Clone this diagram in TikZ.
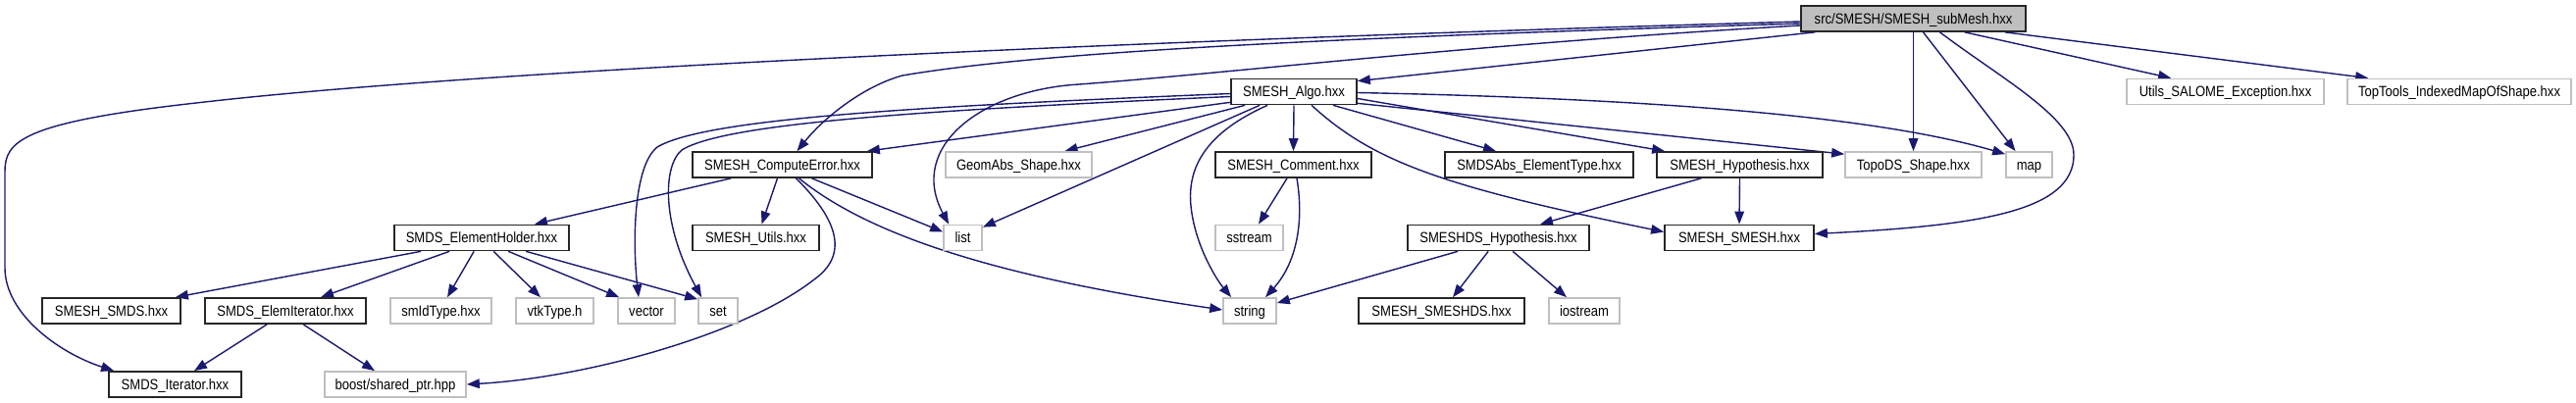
\documentclass[tikz,border=0pt]{standalone}
\usepackage{fontspec}
\newfontfamily\dfont[FakeStretch=0.87]{Liberation Sans}
\usetikzlibrary{arrows.meta,calc,backgrounds}
\definecolor{edgec}{RGB}{25,25,112}
\definecolor{grayb}{RGB}{191,191,191}
\definecolor{rootfill}{RGB}{191,191,191}
\begin{document}
\begin{tikzpicture}[x=0.5pt,y=-0.5pt,
  nbox/.style={draw=black!85, line width=0.85pt, fill=white, inner sep=0pt, minimum height=13pt, text height=6.2pt, text depth=0.8pt, font=\dfont\fontsize{7.5pt}{9pt}\selectfont},
  sysbox/.style={nbox, draw=grayb},
  rootbox/.style={nbox, fill=rootfill},
  bw/.style={minimum width=#1*0.5pt},
  dep/.style={draw=edgec, line width=0.7pt, -{Triangle[length=6.5pt,width=4.8pt]}}]
\useasboundingbox (0,0) rectangle (2626,411);
% row 1
\node[rootbox,bw=229] (root) at (1950.5,19) {src/SMESH/SMESH\_subMesh.hxx};
% row 2
\node[nbox,bw=128] (algo) at (1319,93.5) {SMESH\_Algo.hxx};
\node[sysbox,bw=201] (utils) at (2268.5,93.5) {Utils\_SALOME\_Exception.hxx};
\node[sysbox,bw=228] (toptools) at (2507,93.5) {TopTools\_IndexedMapOfShape.hxx};
% row 3
\node[nbox,bw=183] (computeerror) at (797.5,168) {SMESH\_ComputeError.hxx};
\node[sysbox,bw=149] (geomabs) at (1038.5,168) {GeomAbs\_Shape.hxx};
\node[nbox,bw=159] (comment) at (1318.5,168) {SMESH\_Comment.hxx};
\node[nbox,bw=192] (smdsabs) at (1569,168) {SMDSAbs\_ElementType.hxx};
\node[nbox,bw=169] (hypothesis) at (1773.5,168) {SMESH\_Hypothesis.hxx};
\node[sysbox,bw=139] (topods) at (1950.5,168) {TopoDS\_Shape.hxx};
\node[sysbox,bw=47] (map) at (2068.5,168) {map};
% row 4
\node[nbox,bw=178] (elemholder) at (491,242.5) {SMDS\_ElementHolder.hxx};
\node[nbox,bw=129] (smeshutils) at (770.5,242.5) {SMESH\_Utils.hxx};
\node[sysbox,bw=39] (list) at (981.5,242.5) {list};
\node[sysbox,bw=69] (sstream) at (1273.5,242.5) {sstream};
\node[nbox,bw=185] (smeshdshyp) at (1527.5,242.5) {SMESHDS\_Hypothesis.hxx};
\node[nbox,bw=152] (smeshsmesh) at (1773,242.5) {SMESH\_SMESH.hxx};
% row 5
\node[nbox,bw=141] (smeshsmds) at (113.5,317) {SMESH\_SMDS.hxx};
\node[nbox,bw=164] (elemiter) at (291,317) {SMDS\_ElemIterator.hxx};
\node[sysbox,bw=103] (smidtype) at (449.5,317) {smIdType.hxx};
\node[sysbox,bw=79] (vtktype) at (565.5,317) {vtkType.h};
\node[sysbox,bw=58] (vector) at (659,317) {vector};
\node[sysbox,bw=40] (set) at (732,317) {set};
\node[sysbox,bw=54] (string) at (1274,317) {string};
\node[nbox,bw=169] (smeshds) at (1469.5,317) {SMESH\_SMESHDS.hxx};
\node[sysbox,bw=72] (iostream) at (1615,317) {iostream};
% row 6
\node[nbox,bw=135] (iterator) at (178.5,392) {SMDS\_Iterator.hxx};
\node[sysbox,bw=144] (boost) at (403,392) {boost/shared\_ptr.hpp};

\begin{pgfonlayer}{background}
% root
\draw[dep] ($(root.west)+(0,3)$) .. controls (1200,40) and (500,70) .. (200,105) .. controls (20,125) and (5,145) .. (5,175) -- (5,273) .. controls (5,320) and (60,360) .. ($(iterator.north west)+(6,0)$);
\draw[dep] ($(root.west)+(0,5)$) .. controls (1300,40) and (1050,55) .. (920,77) .. controls (880,88) and (840,120) .. ($(computeerror.north)+(15,0)$);
\draw[dep] ($(root.south west)+(15,0)$) -- ($(algo.north east)+(0,3)$);
\draw[dep] ($(root.west)+(0,7)$) .. controls (1500,45) and (1250,75) .. (1100,86) .. controls (1000,92) and (925,150) .. ($(list.north west)+(6,0)$);
\draw[dep] (root.south) -- (topods.north);
\draw[dep] ($(root.south)+(10,0)$) -- ($(map.north)+(-14,0)$);
\draw[dep] ($(root.south)+(27,0)$) .. controls (2040,80) and (2114,120) .. (2114,158) .. controls (2114,215) and (2020,230) .. ($(smeshsmesh.east)+(0,-4)$);
\draw[dep] ($(root.south east)+(-63,0)$) -- ($(utils.north west)+(46,0)$);
\draw[dep] ($(root.south east)+(-22,0)$) -- ($(toptools.north west)+(22,0)$);
% algo
\draw[dep] ($(algo.south west)+(0,-3)$) -- ($(computeerror.north east)+(-6,0)$);
\draw[dep] ($(algo.south west)+(15,0)$) -- ($(geomabs.north)+(47,0)$);
\draw[dep] ($(algo.south west)+(30,0)$) -- ($(list.north east)+(0,3)$);
\draw[dep] ($(algo.west)+(0,2)$) .. controls (950,108) and (720,120) .. (670,150) .. controls (645,170) and (645,250) .. ($(vector.north)+(-8,0)$);
\draw[dep] ($(algo.west)+(0,5)$) .. controls (950,112) and (740,125) .. (695,153) .. controls (675,170) and (675,230) .. ($(set.north west)+(4,0)$);
\draw[dep] ($(algo.south west)+(38,0)$) .. controls (1230,135) and (1210,170) .. (1214,210) .. controls (1218,250) and (1240,285) .. ($(string.north west)+(9,0)$);
\draw[dep] (algo.south) -- (comment.north);
\draw[dep] ($(algo.south)+(18,0)$) .. controls (1400,165) and (1470,190) .. ($(smeshsmesh.west)+(0,-6)$);
\draw[dep] ($(algo.south)+(40,0)$) -- ($(smdsabs.north)+(-44,0)$);
\draw[dep] ($(algo.east)+(0,7)$) -- ($(hypothesis.north west)+(9,0)$);
\draw[dep] ($(algo.south east)+(0,-2)$) -- ($(topods.north west)+(0,3)$);
\draw[dep] ($(algo.east)+(0,1)$) .. controls (1650,100) and (1900,115) .. ($(map.north west)+(0,3)$);
% compute error
\draw[dep] ($(computeerror.south west)+(40,0)$) -- ($(elemholder.north)+(54,0)$);
\draw[dep] ($(computeerror.south)+(-5,0)$) -- ($(smeshutils.north)+(6,0)$);
\draw[dep] ($(computeerror.south)+(30,0)$) -- ($(list.west)+(0,-6)$);
\draw[dep] ($(computeerror.south)+(17,0)$) .. controls (880,235) and (1000,280) .. ($(string.west)+(0,-1)$);
\draw[dep] ($(computeerror.south)+(14,0)$) .. controls (855,225) and (865,260) .. (830,285) .. controls (760,340) and (600,385) .. (boost.east);
% element holder
\draw[dep] ($(elemholder.south west)+(28,0)$) -- ($(smeshsmds.north east)+(-6,0)$);
\draw[dep] ($(elemholder.south west)+(57,0)$) -- ($(elemiter.north)+(36,0)$);
\draw[dep] ($(elemholder.south west)+(82,0)$) -- ($(smidtype.north)+(6.5,0)$);
\draw[dep] ($(elemholder.south west)+(102,0)$) -- ($(vtktype.north)+(-14.5,0)$);
\draw[dep] ($(elemholder.south west)+(117,0)$) -- ($(vector.north west)+(2,0)$);
\draw[dep] ($(elemholder.south west)+(135,0)$) -- ($(set.north west)+(0,2)$);
% elem iterator
\draw[dep] ($(elemiter.south west)+(64,0)$) -- ($(iterator.north)+(19.5,0)$);
\draw[dep] ($(elemiter.south west)+(101,0)$) -- ($(boost.north)+(-21,0)$);
% comment
\draw[dep] ($(comment.south)+(-6.5,0)$) -- ($(sstream.north)+(9.5,0)$);
\draw[dep] ($(comment.south)+(3.5,0)$) .. controls (1330,230) and (1320,270) .. ($(string.north)+(16,0)$);
% hypothesis
\draw[dep] ($(hypothesis.south west)+(46,0)$) -- ($(smeshdshyp.north)+(42.5,0)$);
\draw[dep] (hypothesis.south) -- (smeshsmesh.north);
% smeshds hypothesis
\draw[dep] ($(smeshdshyp.south west)+(52,0)$) -- ($(string.east)+(0,-8)$);
\draw[dep] ($(smeshdshyp.south west)+(83,0)$) -- ($(smeshds.north)+(11.5,0)$);
\draw[dep] ($(smeshdshyp.south west)+(108,0)$) -- ($(iostream.north)+(-18,0)$);
\end{pgfonlayer}
\end{tikzpicture}
\end{document}
